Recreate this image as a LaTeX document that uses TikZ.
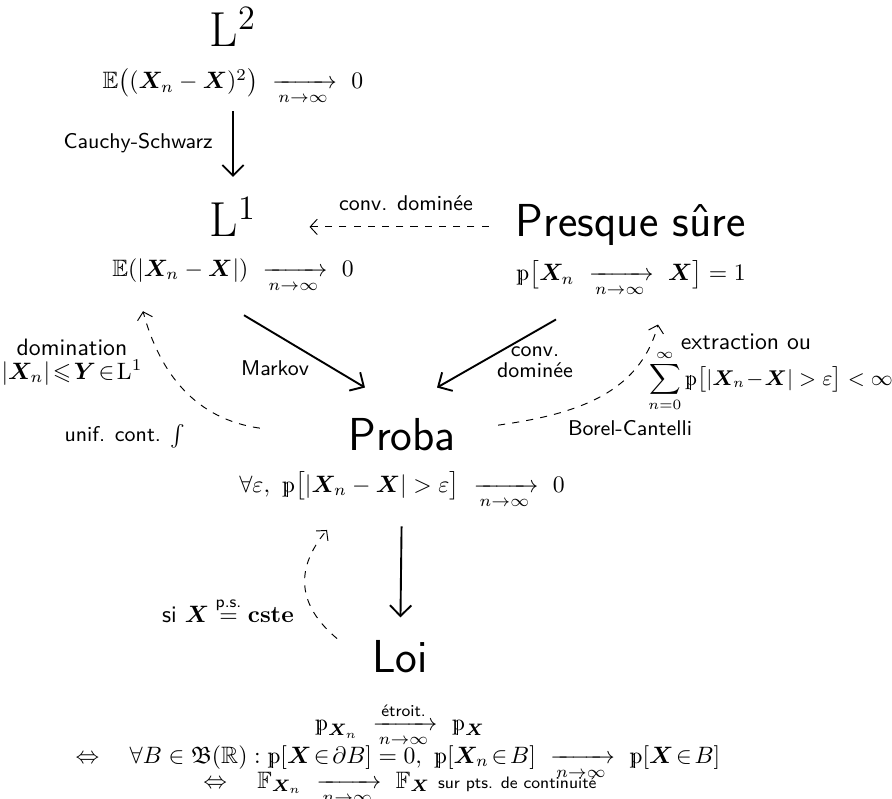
\documentclass[tikz,border=0pt]{standalone}
\usepackage{amsmath,amssymb}
\usepackage{bm}
\newcommand{\bbp}{\mathord{\rlap{\kern2.05pt\vrule height4.3pt depth1.94pt width0.35pt}\mathrm{p}}}
\newcommand{\cvg}{\xrightarrow[n\to\infty]{}}
\usetikzlibrary{arrows.meta,positioning}

\begin{document}
\begin{tikzpicture}[
  x=0.4219pt, y=-0.4219pt,
  mode/.style={anchor=base, font=\fontsize{19.5}{23}\selectfont\sffamily},
  lbl/.style={font=\sffamily\small, align=center},
  arr/.style={-{Straight Barb[length=4.5pt,width=9pt]}, thick},
  darr/.style={-{Straight Barb[length=3pt,width=6.5pt]}, dashed}
]
\useasboundingbox (0,0) rectangle (892,798);
\node[mode] (L2) at (233,47) {$\mathrm{L}^2$};
\node[below=2pt of L2] (EL2) {$\mathbb{E}\big((\bm{X}_n-\bm{X})^2\big)\ \cvg\ 0$};
\node[mode] (L1) at (233,237) {$\mathrm{L}^1$};
\node[below=2pt of L1] (EL1) {$\mathbb{E}(|\bm{X}_n-\bm{X}|)\ \cvg\ 0$};
\node[mode] (ps) at (631,237) {Presque sûre};
\node[below=-1pt of ps] (Pps) {$\bbp\big[\bm{X}_n\ \cvg\ \bm{X}\big]=1$};
\node[mode] (proba) at (402,450) {Proba};
\node[below=2pt of proba] (Pproba) {$\forall\varepsilon,\ \bbp\big[|\bm{X}_n-\bm{X}|>\varepsilon\big]\ \cvg\ 0$};
\node[mode] (loi) at (400,672) {Loi};
\node[anchor=base] (etr) at (400,730) {$\bbp_{\bm{X}_n}\ \xrightarrow[n\to\infty]{\text{\sffamily étroit.}}\ \bbp_{\bm{X}}$};
\node[anchor=base] (bor) at (398,763) {$\Leftrightarrow\quad\forall B\in\mathfrak{B}(\mathbb{R}) : \bbp[\bm{X}\!\in\!\partial B]=0,\ \bbp[\bm{X}_n\!\in\! B]\ \cvg\ \bbp[\bm{X}\!\in\! B]$};
\node[anchor=base] (rep) at (400,788) {$\Leftrightarrow\quad\mathbb{F}_{\bm{X}_n}\ \cvg\ \mathbb{F}_{\bm{X}}$ {\sffamily\scriptsize sur pts. de continuité}};
\node[lbl, anchor=east] (cs) at (221,143) {Cauchy-Schwarz};
\node[lbl] (cd) at (406,203) {conv. dominée};
\node[lbl] (mk) at (275,368) {Markov};
\node[lbl] (cd2) at (535,362) {conv.\\[-2pt] dominée};
\node[font=\sffamily, align=center] (dom) at (72,362) {domination\\[-2pt] $|\bm{X}_n|\!\leqslant\!\bm{Y}\!\in\!\mathrm{L}^1$};
\node[lbl] (uc) at (125,436) {unif. cont. $\int$};
\node[font=\sffamily] (ex) at (746,342) {extraction ou};
\node[font=\small, anchor=west] (sum) at (640,381) {$\displaystyle\sum_{n=0}^{\infty}\bbp\big[|\bm{X}_n\!-\!\bm{X}|>\varepsilon\big]<\infty$};
\node[lbl] (bc) at (630,428) {Borel-Cantelli};
\node (si) at (228,610) {\sffamily si $\bm{X}\overset{\text{\sffamily\scriptsize p.s.}}{=}\mathbf{cste}$};
\draw[arr, shorten <=-1pt, shorten >=5pt] (EL2) -- (L1);
\draw[darr, shorten <=8pt, shorten >=19pt] ([shift={(0,-5)}]ps.mid west) -- ([shift={(0,-5)}]L1.mid east);
\draw[arr] ([shift={(11,14)}]EL1.south) -- ([shift={(-37,-22)}]proba.north);
\draw[arr] ([shift={(-75,14)}]Pps.south) -- ([shift={(35,-22)}]proba.north);
\draw[darr] ([shift={(-80,-6)}]proba.west) to[out=172, in=-75] ([shift={(-90,10)}]EL1.south);
\draw[darr] ([shift={(34,-9)}]proba.east) to[out=8, in=-105] ([shift={(27,19)}]Pps.south);
\draw[arr, shorten <=4pt, shorten >=6pt] (Pproba) -- (loi);
\draw[darr, looseness=1.2] ([shift={(-63,7)}]loi.north) to[out=140, in=-130] ([shift={(-75,13)}]Pproba.south);
\end{tikzpicture}
\end{document}
